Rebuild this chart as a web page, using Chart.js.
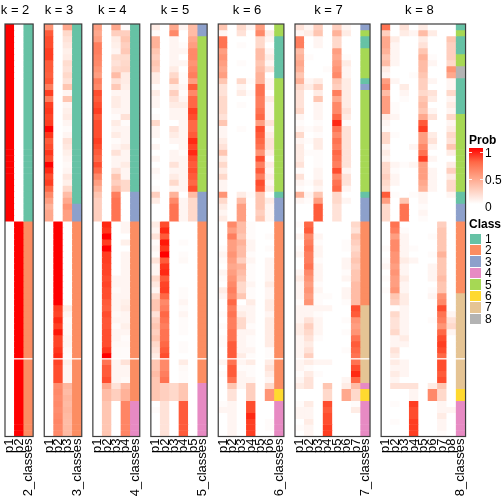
<!DOCTYPE html>
<html>
<head>
<meta charset="utf-8">
<script src="https://cdn.jsdelivr.net/npm/chart.js@4.4.1/dist/chart.umd.min.js"></script>
<style>
  html, body { margin: 0; padding: 0; background: #fff; }
  #wrap { position: relative; width: 504px; height: 504px; overflow: hidden; font-family: "Liberation Sans", Arial, Helvetica, sans-serif; }
  #wrap canvas { position: absolute; top: 0; }
  .leg { position: absolute; font-size: 12px; color: #000; line-height: 14px; transform: translateY(-50%); white-space: nowrap; }
  .leg.b { font-weight: bold; }
  .box { position: absolute; }
</style>
</head>
<body>
<div id="wrap"></div>
<script>
// ---- data ---------------------------------------------------
const ROWS = 69;
const GAP_ROW = 56;   // thin white split line across all panels

const titles = ['k = 2', 'k = 3', 'k = 4', 'k = 5', 'k = 6', 'k = 7', 'k = 8'];

const labelsK2 = ['p1', 'p2', '2_classes'];
const labelsK3 = ['p1', 'p2', 'p3', '3_classes'];
const labelsK4 = ['p1', 'p2', 'p3', 'p4', '4_classes'];
const labelsK5 = ['p1', 'p2', 'p3', 'p4', 'p5', '5_classes'];
const labelsK6 = ['p1', 'p2', 'p3', 'p4', 'p5', 'p6', '6_classes'];
const labelsK7 = ['p1', 'p2', 'p3', 'p4', 'p5', 'p6', 'p7', '7_classes'];
const labelsK8 = ['p1', 'p2', 'p3', 'p4', 'p5', 'p6', 'p7', 'p8', '8_classes'];

// class of each row, as [class, run length]
const classRunsK2 = [[1, 33], [2, 36]];
const classRunsK3 = [[1, 30], [3, 3], [2, 36]];
const classRunsK4 = [[1, 28], [3, 5], [2, 30], [4, 6]];
const classRunsK5 = [[3, 2], [5, 26], [3, 5], [2, 27], [4, 9]];
const classRunsK6 = [[5, 2], [1, 7], [5, 19], [1, 1], [3, 4], [2, 28], [6, 2], [4, 6]];
const classRunsK7 = [[3, 1], [5, 1], [1, 2], [5, 5], [1, 1], [3, 1], [5, 17], [1, 1], [3, 4], [2, 14], [7, 13], [4, 1], [6, 2], [4, 6]];
const classRunsK8 = [[1, 1], [5, 1], [1, 3], [5, 2], [8, 2], [1, 6], [5, 13], [1, 2], [3, 3], [2, 12], [7, 16], [6, 2], [4, 6]];

// membership probabilities, one row per sample
const probK2 = [
  [1,0],[1,0],[1,0],[1,0],[1,0],[1,0],[1,0],[1,0],[1,0],[1,0],
  [1,0],[1,0],[1,0],[1,0],[1,0],[1,0],[1,0],[1,0],[1,0],[1,0],
  [1,0],[1,0],[1,0],[1,0],[1,0],[1,0],[1,0],[1,0],[1,0],[1,0],
  [1,0],[1,0],[1,0],[0,1],[0,1],[0,1],[0,1],[0,1],[0,1],[0,1],
  [0,1],[0,1],[0,1],[0,1],[0,1],[0,1],[0,1],[0,1],[0,1],[0,1],
  [0,1],[0,1],[0,1],[0,1],[0,1],[0,1],[0,1],[0,1],[0,1],[0,1],
  [0,1],[0,1],[0,1],[0,1],[0,1],[0,1],[0,1],[0,1],[0,1]
];

const probK3 = [
  [.55,0,.45],[.8,0,.2],[.85,0,.15],[.85,0,.12],[.9,0,.08],[.9,0,.1],[.8,0,.18],[.8,0,.15],[.78,0,.2],[.82,0,.15],
  [.65,0,.3],[.9,0,.05],[.65,0,.3],[.9,0,.05],[.92,0,.08],[.88,0,.1],[.9,0,.05],[1,0,.02],[.92,0,.05],[.8,0,.15],
  [.85,0,.12],[.92,0,.08],[.85,0,.05],[1,0,.03],[.95,0,.05],[.85,0,.12],[.9,0,.08],[.75,0,.2],[.6,0,.35],[.5,0,.45],
  [.4,0,.55],[.45,0,.5],[.45,0,.5],[0,1,0],[0,1,0],[0,1,0],[0,1,0],[0,1,0],[0,1,0],[0,1,0],
  [0,1,0],[0,1,0],[0,1,0],[0,1,0],[0,1,0],[0,1,0],[0,1,0],[0,.9,.1],[0,.88,.05],[0,.95,.02],
  [0,.9,.03],[0,.98,.03],[0,.88,.05],[0,.88,.05],[0,.92,.03],[0,.95,.02],[0,.88,.08],[0,.85,.05],[0,.85,.05],[0,.85,.05],
  [0,.58,.38],[0,.6,.35],[0,.58,.38],[0,.6,.36],[0,.58,.38],[0,.6,.36],[0,.62,.35],[0,.6,.36],[0,.6,.36]
];

const probK4 = [
  [.5,0,.45,.02],[.45,0,.25,.25],[.5,0,.1,.3],[.65,0,.08,.25],[.65,0,.05,.28],[.62,0,.18,.18],[.6,0,.15,.2],[.55,0,.2,.22],[.5,0,.35,.1],[.65,0,.15,.1],
  [.6,0,.28,.08],[.85,0,.05,.05],[.8,0,.1,.05],[.85,0,.1,.05],[.9,0,.05,.05],[.8,0,.02,.15],[.85,0,.1,.02],[.85,0,.05,.05],[.85,0,.1,.05],[.9,0,.02,.05],
  [.85,0,.05,.1],[.8,0,.15,.05],[.75,0,.05,.05],[.85,0,.05,.1],[.75,0,.15,.05],[.6,0,.3,.05],[.5,0,.25,.2],[.4,0,.35,.2],[.3,0,.65,0],[.25,0,.7,0],
  [.25,0,.7,0],[.25,0,.7,0],[.25,0,.7,0],[0,.95,0,.05],[0,.92,0,.05],[0,1,0,0],[0,.9,0,.08],[0,1,0,0],[0,.9,0,.05],[0,.9,0,.05],
  [0,.88,0,.05],[0,.88,0,.05],[0,.85,.05,.05],[0,.88,.05,.05],[0,.85,.03,.05],[0,.85,.05,.05],[0,.8,.05,.08],[0,.78,.05,.1],[0,.85,.03,.05],[0,.82,.05,.05],
  [0,.82,.02,.08],[0,.85,.05,.05],[0,.85,.05,.02],[0,.85,.03,.03],[0,.92,.02,.02],[0,1,.02,.02],[0,.7,.05,.15],[0,.8,.05,.05],[0,.8,.05,.05],[0,.85,.05,.03],
  [0,.45,.15,.35],[0,.35,.25,.4],[0,.35,.25,.4],[0,.3,0,.62],[0,.3,0,.62],[0,.3,0,.62],[0,.3,0,.62],[0,.3,0,.62],[0,.3,0,.62]
];

const probK5 = [
  [.1,0,.45,.05,.35],[.02,0,.6,0,.35],[.4,0,.05,0,.45],[.4,0,.05,.02,.5],[.3,0,.05,.05,.6],[.25,0,.05,0,.6],[.3,0,.05,.05,.55],[.25,0,.1,0,.6],[.1,0,.2,.02,.65],[.1,0,.3,.02,.5],
  [.02,0,.1,.05,.8],[.1,0,.25,.02,.6],[.05,0,.15,.05,.75],[.05,0,.1,.1,.75],[0,0,.05,.05,.9],[.02,0,.05,.05,.85],[.2,0,0,.05,.75],[.05,0,.15,.05,.75],[.05,0,.1,.05,.8],[0,0,.05,.05,.95],
  [.05,0,0,.05,.88],[0,0,.05,.02,.95],[.05,0,.05,.05,.85],[0,0,.15,.05,.8],[.05,0,.05,.05,.85],[.02,0,.1,.05,.8],[0,0,.2,.05,.75],[.02,0,.05,.05,.85],[.25,0,.4,0,.35],[.1,0,.6,.05,.2],
  [0,0,.7,.05,.2],[0,0,.7,.05,.2],[0,0,.7,.05,.2],[.1,.85,0,0,0],[.05,.95,0,0,0],[.15,.8,0,0,0],[.02,.98,0,.02,0],[.05,.92,0,0,0],[.02,1,0,.02,0],[.15,.8,0,.03,0],
  [.05,.92,0,0,0],[.05,.95,0,0,0],[.2,.8,0,0,0],[.12,.88,0,0,0],[.05,.9,0,.02,0],[.2,.75,0,.02,0],[.3,.6,0,.05,0],[.3,.65,0,.02,0],[.15,.75,0,.05,0],[.25,.7,0,.02,0],
  [.3,.65,0,.02,0],[.25,.7,0,.02,0],[.3,.7,0,0,0],[.2,.75,0,.02,0],[.15,.8,0,.02,0],[.1,.85,0,0,0],[.3,.6,0,.1,0],[.3,.6,0,.03,0],[.35,.65,0,.02,0],[.3,.7,0,.02,0],
  [.3,.25,.2,.3,0],[.3,.25,.2,.3,0],[.3,.25,.2,.3,0],[0,.15,0,.8,0],[.02,.15,0,.8,0],[0,.15,0,.8,0],[0,.15,0,.8,0],[0,.15,0,.8,0],[0,.15,0,.8,0]
];

const probK6 = [
  [.3,0,.2,.05,.5,0],[.05,0,.15,0,.6,.1],[.7,0,0,0,.2,.05],[.7,0,.02,0,.2,0],[.5,0,0,0,.35,.05],[.55,0,0,0,.35,.1],[.5,0,.02,0,.3,.05],[.45,0,0,0,.35,.15],[.5,0,0,0,.4,0],[.3,0,.2,.02,.4,.05],
  [.15,0,.05,0,.7,.05],[.15,0,.1,.02,.7,0],[.2,0,0,0,.65,.1],[.2,0,.02,0,.65,.05],[.2,0,0,0,.7,.05],[.15,0,0,0,.75,.05],[.3,0,0,0,.5,.15],[.05,0,.02,0,.85,.05],[.05,0,0,0,.8,.1],[.1,0,0,0,.75,.15],
  [.15,0,0,0,.7,.15],[.3,0,0,0,.55,.1],[.1,0,0,0,.85,.02],[.2,0,0,0,.65,.1],[.1,0,0,0,.8,.05],[.2,0,0,0,.65,.1],[.05,0,0,0,.85,.05],[.05,0,0,0,.8,.1],[.55,0,.1,.02,.3,0],[.2,0,.35,0,.3,.1],
  [.1,0,.5,0,.3,.05],[.05,0,.5,0,.25,.05],[.1,0,.5,0,.3,.05],[0,.6,.35,.02,0,0],[0,.5,.35,.02,0,0],[0,.65,.3,.02,0,.02],[0,.5,.4,.05,0,0],[.02,.5,.35,.05,0,.02],[.05,.55,.35,.02,0,0],[.02,.5,.25,.05,0,.05],
  [0,.45,.4,.02,0,.05],[.05,.5,.35,.02,0,.05],[.02,.55,.3,.02,0,.05],[0,.6,.2,.05,0,.1],[.1,.65,.2,.02,0,.05],[.05,.6,.3,.02,0,.05],[0,.75,0,.1,0,.1],[0,.65,.05,.05,0,.1],[.02,.7,.1,.05,0,.05],[0,.65,.2,.05,0,.1],
  [.02,.65,.2,.02,0,.1],[0,.7,.05,.05,0,.1],[.02,.7,.05,.02,0,.1],[.02,.8,.05,.02,0,.1],[0,.8,.05,.05,0,.02],[0,.8,.1,.02,0,.02],[.05,.7,.05,.1,0,.1],[0,.8,.02,.02,0,.15],[.02,.8,.05,.02,0,.1],[0,.7,.05,.05,0,.05],
  [0,.3,.05,.25,0,.2],[0,.15,0,.25,0,.55],[0,.15,0,.25,0,.55],[.02,.05,0,.85,0,0],[.05,.05,0,.85,0,0],[0,.05,0,.95,0,0],[0,.05,0,.9,0,.02],[0,.05,0,.9,0,.02],[0,.05,0,.9,0,0]
];

const probK7 = [
  [.15,.05,.25,0,.25,.05,0],[.05,.1,.3,0,.4,.1,0],[.65,0,.05,0,.2,0,0],[.65,0,.05,0,.2,0,0],[.35,0,0,0,.5,0,0],[.4,.02,0,0,.45,.02,0],[.45,0,0,0,.5,.1,0],[.4,0,0,.02,.55,.05,0],[.3,0,0,0,.6,.05,0],[.4,.05,.1,0,.3,.1,0],
  [.2,.1,.25,0,.25,.1,0],[.15,0,.1,0,.65,.1,0],[.15,0,.3,0,.45,.1,0],[.15,0,.05,0,.6,.1,0],[.2,0,.05,0,.6,.15,0],[.05,0,.05,0,.75,.1,0],[.02,0,.02,0,.95,.02,0],[.05,.02,.05,0,.7,.15,0],[.2,0,.02,0,.6,.15,0],[.05,.02,.1,0,.7,.15,0],
  [.1,0,.1,0,.65,.15,0],[.1,.02,.02,0,.75,.15,0],[.1,0,.02,0,.7,.15,0],[.15,0,.02,0,.65,.15,0],[.02,0,.05,0,.85,.05,0],[.15,0,.05,0,.6,.15,0],[.05,.02,.1,0,.7,.15,0],[.02,0,.05,0,.75,.05,0],[.4,.05,.3,0,.2,0,0],[.05,.02,.5,0,.2,.05,0],
  [0,0,.8,0,.15,0,0],[0,0,.8,0,.15,0,0],[0,0,.8,0,.15,0,0],[.02,.75,0,0,0,0,.2],[0,.8,0,0,0,0,.15],[.05,.6,.05,0,0,0,.3],[0,.65,.02,0,0,.02,.25],[.02,.7,.05,0,0,.02,.2],[.05,.65,.05,0,0,0,.25],[0,.65,.02,0,0,.05,.3],
  [0,.7,.05,0,0,.05,.25],[.05,.6,.05,0,0,.02,.3],[.1,.55,.05,0,0,.05,.3],[.05,.5,.02,0,0,0,.35],[.05,.55,.05,0,0,.05,.35],[.05,.5,.02,.02,0,.05,.35],[.02,.55,.02,0,0,.02,.35],[.05,.05,.05,.05,0,0,.85],[.05,.05,.02,0,0,0,.8],[.05,.15,.05,0,0,.02,.55],
  [.1,.25,.05,0,0,0,.5],[.1,.2,.05,0,0,.02,.55],[.05,.15,.02,0,0,0,.7],[.05,.1,0,0,0,0,.8],[.05,.15,0,0,0,.02,.75],[.05,.25,0,0,0,0,.7],[.05,.1,.05,.05,0,0,.7],[.05,.02,0,0,0,0,.85],[.02,.1,.02,0,0,0,.95],[.05,.15,0,0,0,.05,.75],
  [.1,.15,0,.3,0,.1,.35],[0,0,0,.2,0,.45,.2],[0,0,0,.2,0,.45,.2],[.02,.1,0,.85,0,0,.02],[.05,.05,0,.8,0,0,.1],[.05,.05,0,.85,0,0,0],[0,.1,0,.85,0,0,0],[.02,.05,0,.9,0,0,0],[0,.05,0,.9,0,0,0]
];

const probK8 = [
  [.7,0,.15,0,.1,0,0,0],[.25,0,.1,.05,.35,.1,0,0],[.45,.1,0,0,.1,0,0,.3],[.45,.05,0,0,.15,0,0,.25],[.4,.05,0,0,.3,0,0,.25],[.3,.05,0,0,.4,.02,0,.25],[.35,.05,0,0,.35,.05,0,.2],[.1,0,0,0,.35,0,0,.55],[.05,0,0,.02,.3,0,0,.45],[.5,.05,0,0,.25,.05,0,.05],
  [.6,0,.1,0,.25,0,0,.05],[.35,0,.05,0,.2,.15,0,.2],[.5,0,.02,0,.3,.1,0,.05],[.5,.02,0,0,.35,0,0,.1],[.5,.02,0,0,.3,.05,0,.05],[.1,.05,0,0,.45,.15,0,.2],[.05,0,0,0,.8,0,0,.05],[.02,0,0,0,.9,0,0,.1],[.2,.02,0,0,.5,.1,0,.2],[.2,0,0,0,.5,.15,0,.15],
  [.05,0,0,.05,.6,.05,0,.3],[.1,0,0,0,.7,0,0,.1],[.05,0,0,0,.9,.05,0,0],[.2,.05,.02,.05,.5,0,0,.1],[.2,.02,0,0,.5,.05,0,.25],[.25,.05,0,0,.5,.05,0,.1],[.2,.05,0,0,.45,.05,0,.2],[.15,0,0,0,.4,.05,0,.2],[.8,.02,0,.02,.05,0,0,.05],[.5,0,.3,0,.05,0,0,0],
  [.2,0,.7,0,.02,0,0,0],[.2,0,.7,0,.05,0,0,0],[.2,0,.7,0,.02,0,0,0],[0,.7,0,0,0,0,.25,0],[0,.65,.02,0,0,0,.3,0],[0,.5,.05,0,0,.02,.3,0],[0,.6,.05,0,0,0,.3,0],[.02,.6,.05,.02,0,0,.3,0],[0,.55,.05,0,0,.02,.4,0],[.02,.55,.1,.05,0,0,.3,0],
  [.05,.5,.05,0,0,.05,.3,0],[0,.55,.05,0,0,.05,.3,0],[.02,.5,.1,0,0,.05,.35,0],[0,.5,.05,0,0,0,.3,0],[.02,.55,.05,0,0,.02,.3,0],[0,.3,.1,0,0,.05,.55,0],[0,.25,.1,0,0,0,.6,0],[0,.02,.05,0,0,0,.85,0],[0,.2,.05,0,0,0,.7,.05],[0,.15,.05,0,0,.02,.65,.15],
  [0,.15,.05,0,0,0,.55,.2],[0,.2,.05,0,0,0,.75,.05],[0,.05,.1,0,0,0,.85,0],[0,.05,.05,0,0,0,.9,0],[0,.15,0,0,0,0,.85,0],[0,.1,0,0,0,0,.75,0],[0,.1,.05,0,0,0,.85,0],[0,.05,.05,0,0,0,.85,0],[0,.1,.05,0,0,0,.8,0],[0,.05,0,0,0,0,.85,0],
  [0,.15,.15,.15,0,.1,.3,0],[0,0,0,.05,0,.6,.2,0],[0,0,0,.05,0,.6,.2,0],[0,.02,0,.9,0,0,.05,0],[0,0,0,.85,0,0,.05,.05],[0,0,0,.85,0,0,.1,0],[0,.02,0,.9,0,0,.05,0],[0,0,0,.9,0,0,.05,0],[0,0,0,.9,0,0,.02,0]
];

const legendProbTicks = ['1', '0.5', '0'];
const legendClasses = ['1', '2', '3', '4', '5', '6', '7', '8'];

// ---- styling ------------------------------------------------
Chart.defaults.font.family = '"Liberation Sans", Arial, Helvetica, sans-serif';
Chart.defaults.color = '#000';

const CLASS_COLORS = ['#66C2A5', '#FC8D62', '#8DA0CB', '#E78AC3', '#A6D854', '#FFD92F', '#E5C494', '#B3B3B3'];

// white -> red ramp, interpolated in LAB space
function toLin(c) { c /= 255; return c <= 0.04045 ? c / 12.92 : Math.pow((c + 0.055) / 1.055, 2.4); }
function rgb2lab(r, g, b) {
  const R = toLin(r), G = toLin(g), B = toLin(b);
  const X = (0.4124 * R + 0.3576 * G + 0.1805 * B) / 0.95047;
  const Y = 0.2126 * R + 0.7152 * G + 0.0722 * B;
  const Z = (0.0193 * R + 0.1192 * G + 0.9505 * B) / 1.08883;
  const f = t => t > 0.008856 ? Math.cbrt(t) : 7.787 * t + 16 / 116;
  return [116 * f(Y) - 16, 500 * (f(X) - f(Y)), 200 * (f(Y) - f(Z))];
}
function lab2rgb(L, a, b) {
  const fy = (L + 16) / 116, fx = fy + a / 500, fz = fy - b / 200;
  const inv = t => t * t * t > 0.008856 ? t * t * t : (t - 16 / 116) / 7.787;
  const X = 0.95047 * inv(fx), Y = inv(fy), Z = 1.08883 * inv(fz);
  const R = 3.2406 * X - 1.5372 * Y - 0.4986 * Z;
  const G = -0.9689 * X + 1.8758 * Y + 0.0415 * Z;
  const B = 0.0557 * X - 0.2040 * Y + 1.0570 * Z;
  const g = c => { c = Math.max(0, Math.min(1, c)); return Math.round(255 * (c <= 0.0031308 ? 12.92 * c : 1.055 * Math.pow(c, 1 / 2.4) - 0.055)); };
  return `rgb(${g(R)},${g(G)},${g(B)})`;
}
const LAB_LO = rgb2lab(255, 255, 255), LAB_HI = rgb2lab(255, 0, 0);
function probColor(v) {
  const t = Math.max(0, Math.min(1, v));
  return lab2rgb(...LAB_LO.map((x, i) => x + (LAB_HI[i] - x) * t));
}

function expandRuns(runs) {
  const out = [];
  runs.forEach(([c, n]) => { for (let i = 0; i < n; i++) out.push(c); });
  return out;
}

// ---- layout -------------------------------------------------
const COL_W = 9.38, GAP = 11.1, X0 = 5;
const CANVAS_H = 504, AXIS_H = 67.5;
const PAD = 10, YAXIS_W = 8;

const heatFrame = {
  id: 'heatFrame',
  afterDatasetsDraw(chart) {
    const { ctx, chartArea: a, scales: { y } } = chart;
    ctx.save();
    const gy = y.getPixelForValue(GAP_ROW);
    ctx.fillStyle = '#fff';
    ctx.fillRect(a.left, gy - 0.6, a.width, 1.3);
    ctx.strokeStyle = '#3c3c3c';
    ctx.lineWidth = 1.2;
    ctx.strokeRect(a.left, a.top, a.width, a.height);
    ctx.restore();
  }
};

const panels = [
  { title: titles[0], labels: labelsK2, prob: probK2, runs: classRunsK2 },
  { title: titles[1], labels: labelsK3, prob: probK3, runs: classRunsK3 },
  { title: titles[2], labels: labelsK4, prob: probK4, runs: classRunsK4 },
  { title: titles[3], labels: labelsK5, prob: probK5, runs: classRunsK5 },
  { title: titles[4], labels: labelsK6, prob: probK6, runs: classRunsK6 },
  { title: titles[5], labels: labelsK7, prob: probK7, runs: classRunsK7 },
  { title: titles[6], labels: labelsK8, prob: probK8, runs: classRunsK8 },
];

const wrap = document.getElementById('wrap');
let left = X0;

panels.forEach(p => {
  const n = p.labels.length;
  const w = n * COL_W;
  const cvLeft = Math.floor(left) - PAD - YAXIS_W;
  const padL = left - cvLeft - YAXIS_W;
  const cvW = Math.ceil(padL + YAXIS_W + w + PAD);
  const padR = cvW - padL - YAXIS_W - w;

  const canvas = document.createElement('canvas');
  canvas.width = cvW;
  canvas.height = CANVAS_H;
  canvas.style.left = cvLeft + 'px';
  canvas.style.width = cvW + 'px';
  canvas.style.height = CANVAS_H + 'px';
  wrap.appendChild(canvas);

  const classes = expandRuns(p.runs);
  const datasets = p.prob.map((row, r) => ({
    data: p.labels.map(() => [r, r + 1]),
    backgroundColor: row.map(probColor).concat(CLASS_COLORS[classes[r] - 1]),
    borderWidth: 0,
    grouped: false,
    barPercentage: 1,
    categoryPercentage: 1,
  }));

  new Chart(canvas.getContext('2d'), {
    type: 'bar',
    data: { labels: p.labels, datasets },
    options: {
      responsive: false,
      animation: false,
      events: [],
      layout: { padding: { left: padL, right: padR, top: 0, bottom: 0 } },
      plugins: {
        legend: { display: false },
        tooltip: { enabled: false },
        title: {
          display: true, text: p.title, color: '#000',
          font: { size: 13, weight: 'normal' },
          padding: { top: 3, bottom: 5.4 },
        },
      },
      scales: {
        x: {
          type: 'category', offset: true,
          grid: { display: false, drawTicks: false },
          border: { display: false },
          ticks: { autoSkip: false, minRotation: 90, maxRotation: 90, padding: 2, color: '#000', font: { size: 13 } },
          afterFit: s => { s.height = AXIS_H; s.paddingLeft = 0; s.paddingRight = 0; },
        },
        y: {
          type: 'linear', min: 0, max: ROWS, reverse: true,
          grid: { display: false, drawTicks: false },
          border: { display: false },
          ticks: { display: false },
          afterFit: s => { s.width = YAXIS_W; s.paddingTop = 0; s.paddingBottom = 0; },
        },
      },
    },
    plugins: [heatFrame],
  });

  left += w + GAP;
});

// ---- legend (HTML) ------------------------------------------
function addDiv(cls, text, x, y) {
  const d = document.createElement('div');
  d.className = cls;
  d.textContent = text;
  d.style.left = x + 'px';
  d.style.top = y + 'px';
  wrap.appendChild(d);
}
function addBox(x, y, w, h, bg) {
  const b = document.createElement('div');
  b.className = 'box';
  Object.assign(b.style, { left: x + 'px', top: y + 'px', width: w + 'px', height: h + 'px', background: bg });
  wrap.appendChild(b);
}

addDiv('leg b', 'Prob', 469, 140);
addBox(469, 148, 13.5, 56,
  `linear-gradient(to bottom, ${probColor(1)}, ${probColor(0.75)}, ${probColor(0.5)}, ${probColor(0.25)}, ${probColor(0)})`);
const probTickY = [152.5, 179.5, 206.5];
// small white tick marks on both edges of the colour bar
[151.5, 178.5].forEach(y => {
  addBox(469, y, 2.5, 1, 'rgba(255,255,255,0.85)');
  addBox(480, y, 2.5, 1, 'rgba(255,255,255,0.85)');
});
legendProbTicks.forEach((t, i) => addDiv('leg', t, 485, probTickY[i]));

addDiv('leg b', 'Class', 469, 224);
legendClasses.forEach((c, i) => {
  addBox(470, 233.5 + i * 11.45, 10.7, 10.4, CLASS_COLORS[i]);
  addDiv('leg', c, 485, 238.7 + i * 11.45);
});
</script>
</body>
</html>
